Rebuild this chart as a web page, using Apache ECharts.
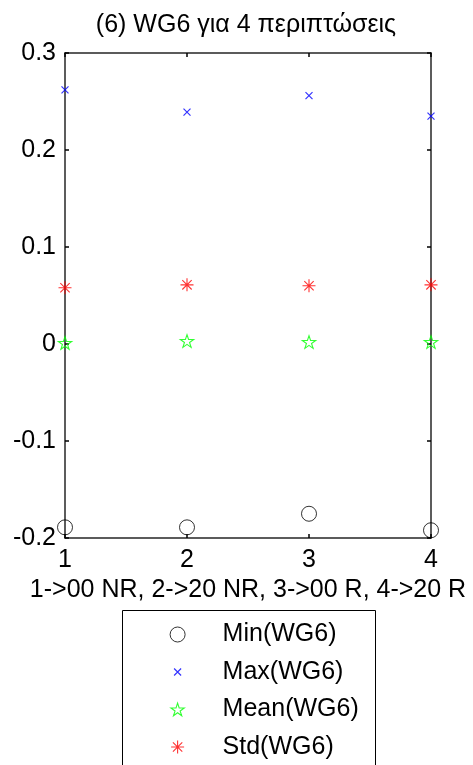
<!DOCTYPE html>
<html>
<head>
<meta charset="utf-8">
<script src="https://cdn.jsdelivr.net/npm/echarts@6/dist/echarts.min.js"></script>
<style>html,body{margin:0;padding:0;background:#fff;}#c{width:473px;height:765px;}</style>
</head>
<body>
<div id="c"></div>
<script>
const cases = [1, 2, 3, 4];
const minVals = [-0.189, -0.189, -0.175, -0.192];
const maxVals = [0.262, 0.239, 0.256, 0.235];
const meanVals = [0.001, 0.003, 0.002, 0.002];
const stdVals = [0.058, 0.061, 0.060, 0.061];
const seriesNames = ['Min(WG6)', 'Max(WG6)', 'Mean(WG6)', 'Std(WG6)'];
const seriesColors = ['#000000', '#0000ff', '#00ff00', '#ff0000'];
const titleText = '(6) WG6 για 4 περιπτώσεις';
const xName = '1->00 NR, 2->20 NR, 3->00 R, 4->20 R';

const FONT = 'Liberation Sans, Arial, sans-serif';
const FS = 25;
const pairs = arr => cases.map((c, i) => [c, arr[i]]);

// symbols drawn inside a common 16x16 box (corner moveTo points pad the box)
const BOX = 'M0 0M16 16';
function f(n) { return n.toFixed(2); }
function circSym(s) { const r = s / 2; return 'path://' + BOX + 'M' + f(8 + r) + ' 8A' + f(r) + ' ' + f(r) + ' 0 1 1 ' + f(8 - r) + ' 8A' + f(r) + ' ' + f(r) + ' 0 1 1 ' + f(8 + r) + ' 8Z'; }
function xSym(s) { const a = 8 - s / 2, b = 8 + s / 2; return 'path://' + BOX + 'M' + f(a) + ' ' + f(a) + 'L' + f(b) + ' ' + f(b) + 'M' + f(b) + ' ' + f(a) + 'L' + f(a) + ' ' + f(b); }
function starSym(s) {
  const R = s / 2, r = R * 0.382; let p = 'path://' + BOX;
  for (let k = 0; k < 10; k++) {
    const ang = (-90 + k * 36) * Math.PI / 180, rad = k % 2 ? r : R;
    p += (k ? 'L' : 'M') + f(8 + rad * Math.cos(ang)) + ' ' + f(8.6 + rad * Math.sin(ang));
  }
  return p + 'Z';
}
function astSym(s) {
  const h = s / 2, d = h * 0.72; let p = 'path://' + BOX;
  p += 'M8 ' + f(8 - h) + 'L8 ' + f(8 + h);
  p += 'M' + f(8 - h) + ' 8L' + f(8 + h) + ' 8';
  p += 'M' + f(8 - d) + ' ' + f(8 - d) + 'L' + f(8 + d) + ' ' + f(8 + d);
  p += 'M' + f(8 + d) + ' ' + f(8 - d) + 'L' + f(8 - d) + ' ' + f(8 + d);
  return p;
}
const symbols = [circSym(15), xSym(7), starSym(14), astSym(13)];
const lineW = [1, 1.2, 1.1, 1.1];

const chart = echarts.init(document.getElementById('c'), null, {renderer: 'canvas'});
const axisCommon = {
  axisLine: {show: true, onZero: false, lineStyle: {color: '#262626', width: 1.5}},
  axisTick: {show: true, inside: true, length: 4, lineStyle: {color: '#000', width: 1.5}},
  splitLine: {show: false}
};
const txt = {fontFamily: FONT, fontSize: FS, color: '#000'};
const styleOf = i => ({color: 'rgba(0,0,0,0)', borderColor: seriesColors[i], borderWidth: lineW[i]});
const allVals = [minVals, maxVals, meanVals, stdVals];

chart.setOption({
  animation: false,
  backgroundColor: '#fff',
  title: {
    text: titleText, left: 246, top: 13, textAlign: 'center', padding: 0,
    textStyle: Object.assign({fontWeight: 'normal'}, txt)
  },
  grid: {left: 65, right: 42, top: 53, bottom: 227},
  legend: {
    orient: 'vertical', left: 164, top: 617, height: 300, padding: 5,
    itemGap: 12.5, itemWidth: 16, itemHeight: 16,
    data: seriesNames.map((n, i) => ({name: n, icon: symbols[i], itemStyle: styleOf(i)})),
    textStyle: Object.assign({lineHeight: 25, padding: [0, 0, 0, 32]}, txt)
  },
  graphic: [{
    type: 'rect', shape: {x: 122.5, y: 610.5, width: 253, height: 170},
    style: {fill: 'none', stroke: '#000', lineWidth: 1}, z: 0, silent: true
  }],
  xAxis: [
    Object.assign({
      type: 'value', min: 1, max: 4, interval: 1, position: 'bottom',
      name: xName, nameLocation: 'middle', nameGap: 38,
      nameTextStyle: txt,
      axisLabel: Object.assign({margin: 10}, txt)
    }, axisCommon),
    Object.assign({
      type: 'value', min: 1, max: 4, interval: 1, position: 'top',
      axisLabel: {show: false}
    }, axisCommon)
  ],
  yAxis: [
    Object.assign({
      type: 'value', min: -0.2, max: 0.3, interval: 0.1, position: 'left',
      axisLabel: Object.assign({margin: 9,
        formatter: v => {const r = Math.round(v * 10) / 10; return r === 0 ? '0' : String(r);}}, txt)
    }, axisCommon),
    Object.assign({
      type: 'value', min: -0.2, max: 0.3, interval: 0.1, position: 'right',
      axisLabel: {show: false}
    }, axisCommon)
  ],
  series: seriesNames.map((n, i) => ({
    name: n, type: 'scatter', data: pairs(allVals[i]),
    symbol: symbols[i], symbolSize: 16,
    itemStyle: styleOf(i)
  }))
});
</script>
</body>
</html>
